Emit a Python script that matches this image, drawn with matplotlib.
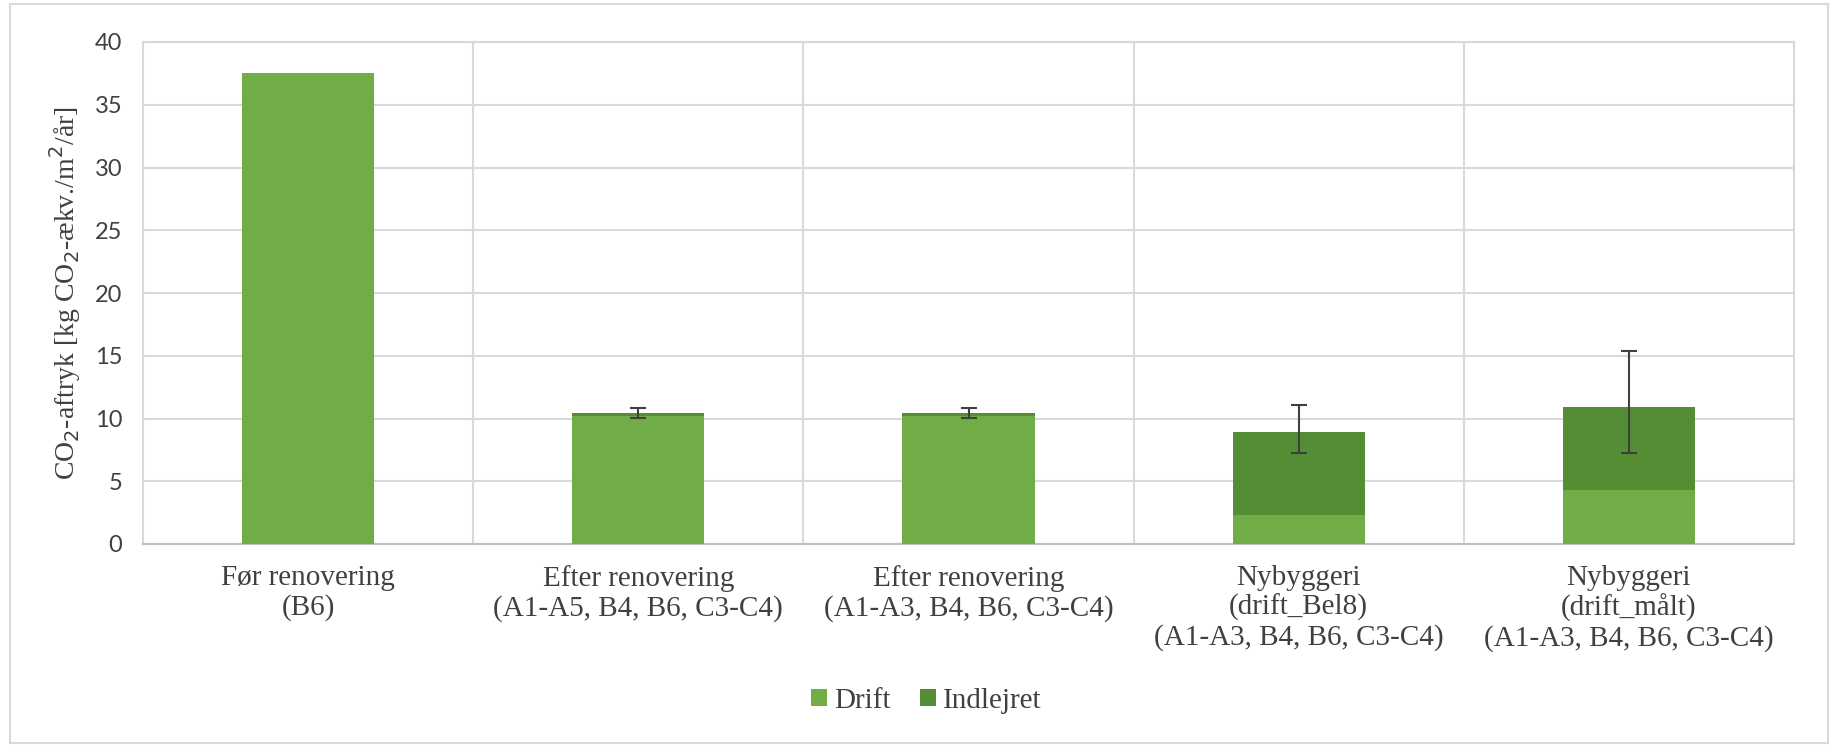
import matplotlib
matplotlib.use("Agg")
import matplotlib.pyplot as plt
from matplotlib.patches import Rectangle, Patch
import numpy as np

# Scenarios compared (x-axis categories)
categories = [
    "Før renovering\n(B6)",
    "Efter renovering\n(A1-A5, B4, B6, C3-C4)",
    "Efter renovering\n(A1-A3, B4, B6, C3-C4)",
    "Nybyggeri\n(drift_Bel8)\n(A1-A3, B4, B6, C3-C4)",
    "Nybyggeri\n(drift_målt)\n(A1-A3, B4, B6, C3-C4)",
]

# CO2 footprint per series [kg CO2-ækv./m²/år]
drift = [37.5, 10.2, 10.2, 2.3, 4.3]
indlejret = [0.0, 0.2, 0.2, 6.6, 6.6]

# Asymmetric uncertainty on the total (none for the first scenario)
err_lower = [0.0, 0.35, 0.35, 1.65, 3.65]
err_upper = [0.0, 0.45, 0.45, 2.2, 4.5]

yticks = [0, 5, 10, 15, 20, 25, 30, 35, 40]

C_DRIFT = "#70AD47"
C_INDL = "#548D33"
C_GRID = "#D9D9D9"

SERIF = ["Liberation Serif", "DejaVu Serif"]
SANS = ["Lato", "DejaVu Sans"]

fig = plt.figure(figsize=(18.41, 7.46), dpi=100)
fig.patch.set_facecolor("white")

# outer chart frame
fig.add_artist(Rectangle((10 / 1841, 3 / 746), 1818 / 1841, 739 / 746,
                         transform=fig.transFigure, fill=False,
                         edgecolor=C_GRID, linewidth=1.5))

ax = fig.add_axes([143 / 1841, 202 / 746, 1651 / 1841, 502 / 746])

x = np.arange(len(categories))
width = 0.40
totals = np.array(drift) + np.array(indlejret)

ax.bar(x, drift, width, color=C_DRIFT, label="Drift", zorder=3)
ax.bar(x, indlejret, width, bottom=drift, color=C_INDL, label="Indlejret", zorder=3)

# error bars only where an uncertainty is given
mask = (np.array(err_lower) + np.array(err_upper)) > 0
ax.errorbar(x[mask], totals[mask],
            yerr=[np.array(err_lower)[mask], np.array(err_upper)[mask]],
            fmt="none", ecolor="#404040", elinewidth=1.5, capsize=5.5,
            capthick=1.5, zorder=4)

ax.set_xlim(-0.5, len(categories) - 0.5)
ax.set_ylim(0, 40)
ax.set_yticks(yticks)
ax.set_yticklabels([str(t) for t in yticks], family=SANS, fontsize=17,
                   color="#404040")
ax.set_xticks(x)
ax.set_xticklabels(categories, family=SERIF, fontsize=21, color="#404040",
                   linespacing=1.15)
ax.tick_params(axis="both", length=0)
ax.tick_params(axis="y", pad=15)
ax.tick_params(axis="x", pad=15)

# horizontal grid and category separators
ax.yaxis.grid(True, color=C_GRID, linewidth=1.5, zorder=0)
for b in np.arange(0.5, len(categories) - 0.5, 1.0):
    ax.axvline(b, color=C_GRID, linewidth=1.5, zorder=0)
for s in ax.spines.values():
    s.set_color(C_GRID)
    s.set_linewidth(1.5)
ax.spines["bottom"].set_color("#BFBFBF")
ax.set_axisbelow(True)

ax.set_ylabel("CO$_2$-aftryk [kg CO$_2$-ækv./m$^2$/år]", family=SERIF,
              fontsize=20, color="#404040", labelpad=8)

handles = [Patch(facecolor=C_DRIFT), Patch(facecolor=C_INDL)]
fig.legend(handles, ["Drift", "Indlejret"], loc="center",
           bbox_to_anchor=(926 / 1841, 1 - 701 / 746), ncol=2, frameon=False,
           prop={"family": SERIF, "size": 21}, handlelength=0.55,
           handleheight=0.55, handletextpad=0.25, columnspacing=1.0,
           labelcolor="#404040")

fig.savefig("out.png", dpi=100, facecolor="white")
